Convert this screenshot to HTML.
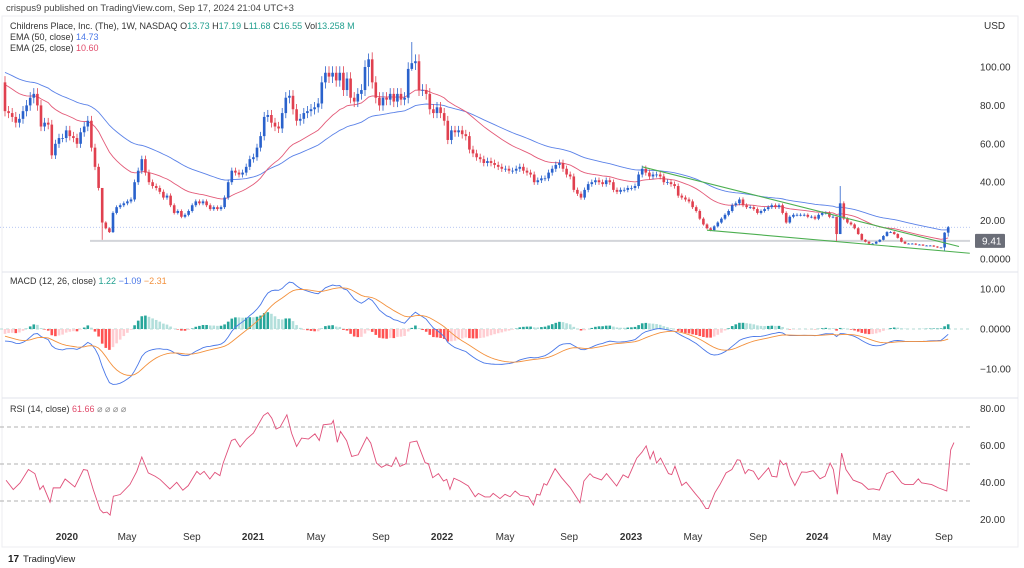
<!DOCTYPE html>
<html><head><meta charset="utf-8"><style>
html,body{margin:0;padding:0;background:#fff;}
svg{display:block;font-family:"Liberation Sans",sans-serif;}
</style></head><body>
<svg id="c" width="1024" height="568" viewBox="0 0 1024 568" xmlns="http://www.w3.org/2000/svg">
<rect x="0" y="0" width="1024" height="568" fill="#fff"/>
<text x="6" y="11" font-size="9.5" fill="#444">crispus9 published on TradingView.com, Sep 17, 2024 21:04 UTC+3</text>
<rect x="2" y="16" width="1016" height="531" fill="none" stroke="#eceef2"/>
<line x1="2" y1="272" x2="1018" y2="272" stroke="#e0e3eb"/>
<line x1="2" y1="398" x2="1018" y2="398" stroke="#e0e3eb"/>
<g id="main"></g>
<g id="macd"></g>
<g id="rsi"></g>
<g id="axes"></g>
<text x="10" y="29" font-size="9" fill="#333">Childrens Place, Inc. (The), 1W, NASDAQ <tspan fill="#333">O</tspan><tspan fill="#22a08f">13.73</tspan> <tspan fill="#333">H</tspan><tspan fill="#22a08f">17.19</tspan> <tspan fill="#333">L</tspan><tspan fill="#22a08f">11.68</tspan> <tspan fill="#333">C</tspan><tspan fill="#22a08f">16.55</tspan> <tspan fill="#333">Vol</tspan><tspan fill="#22a08f">13.258 M</tspan></text>
<text x="10" y="40" font-size="9" fill="#333">EMA (50, close) <tspan fill="#4a78e8">14.73</tspan></text>
<text x="10" y="51" font-size="9" fill="#333">EMA (25, close) <tspan fill="#e04a6a">10.60</tspan></text>
<text x="10" y="284" font-size="9" fill="#333">MACD (12, 26, close) <tspan fill="#22a08f">1.22</tspan> <tspan fill="#4a78e8">−1.09</tspan> <tspan fill="#f3913d">−2.31</tspan></text>
<text x="10" y="412" font-size="9" fill="#333">RSI (14, close) <tspan fill="#e04a6a">61.66</tspan> <tspan fill="#888">⌀ ⌀ ⌀ ⌀</tspan></text>
<text x="984" y="29" font-size="10" fill="#333">USD</text>
<text x="8" y="562" font-size="10" font-weight="bold" fill="#222">17</text>
<text x="23" y="562" font-size="9.5" fill="#222">TradingView</text>
</svg>
<script>
const closes=[77,76,74,71,73,77,80,84,86,80,69,71,70,54,60,63,63,67,64,63,60,66,69,72,58,48,37,19,16,14,24,27,28,29,30,31,40,46,52,45,40,38,37,35,32,33,28,24,25,22,23,25,28,30,29,30,28,26,27,26,27,32,40,46,45,44,45,48,52,53,58,64,74,75,71,69,68,76,84,85,78,72,73,76,77,78,79,81,92,97,95,97,93,97,88,94,84,82,86,88,100,104,92,84,80,84,83,86,82,86,83,84,99,102,103,88,88,86,78,76,79,76,72,62,67,66,67,65,64,57,55,53,52,50,51,50,49,48,47,47,46,46,47,48,46,45,44,40,41,42,42,45,47,49,50,47,44,43,36,34,32,36,39,40,41,40,39,41,40,36,35,36,36,37,37,38,44,47,45,43,44,44,43,40,40,39,38,33,32,31,30,27,25,21,18,16,15,17,19,21,23,25,28,29,31,28,27,27,26,24,25,26,27,28,27,28,24,19,22,23,23,23,23,22,22,21,23,24,24,22,22,13,29,21,19,18,16,13,10,9,8,8,9,10,12,14,14,13,11,9,8,8,8,7.5,7.5,7,7,7,6.5,6,6,13.73,16.55];
const firstOpen=92;
const spikeIdx=[27,101,113,231,232,261,262];
const spikeHigh=[20,107,113,15,38,14,17.19];
const spikeLow=[10,90,98,9,13,4,11.68];
const rsiIdx=[0.3,2.3,4.2,6.5,8.3,9.7,10.6,12.5,13.4,15.3,16.7,19.4,21.8,22.9,24.5,26.4,27.3,28.3,29.2,30.1,32,34.7,36.6,38,39.8,41.7,43.1,45.8,47.7,49.4,50.9,53.3,54.2,55.3,56.9,58.3,59.7,60.6,62.9,63.9,65.3,67.1,69,71.8,73,74.1,75.3,76.4,78.3,79.6,81,82.4,84.3,86.1,87.3,88.4,90.7,91.2,92.3,93.2,94.9,96.3,98.1,100.5,101.6,103.2,104.6,106,107.4,108.6,109.7,111.4,112.5,114.4,116.7,117.6,118.8,120.4,121.8,122.7,123.6,124.7,126.4,128.7,130.6,131.5,133.3,134.7,135.6,137.5,138.9,140.3,141.7,143.1,145.4,146.8,147.7,148.6,149.7,150.5,152.8,154.6,157,159.7,160.8,162.5,163.4,165.7,167.1,169.9,171.7,173.1,175.5,176.9,178.1,179.2,180.1,181,182.1,184.3,185.2,186.1,188,189.2,191.7,193.1,194.7,195.4,197.2,198.6,200.3,201.9,203.4,204.2,205.6,206.5,207.9,209.3,212.1,213,214.4,215.3,216.2,217,218.1,219.4,221.3,222.7,224.5,226.4,227.8,229.2,230.1,231.2,232.4,233.6,235.6,238,239.8,241.2,242.9,244.9,246.6,249.1,250,252.3,253.7,254.6,257.4,259.3,261.6,262.7,263.6];
const rsiVals=[41.2,36.2,39.8,47,44.8,36.2,38.3,29.4,37.1,37.1,41.9,37.6,47,46.6,36.2,25.4,23.6,24,22.4,32.6,33.5,38.9,46,53.8,45.2,43.4,41.6,36.5,40.1,35.8,38.3,46,44.3,46,41.9,45.5,43.7,50.5,62.7,63.5,59.2,63.5,66.7,76.2,77.8,74.8,68.9,69.9,76.6,66.7,59.5,64,63.5,66.3,62.7,71.2,71.7,73.5,61.7,67.6,62.6,54.1,55,64.5,61.3,50.5,48.2,49.6,48.7,53.6,48.7,50.2,61.7,62.4,50.7,50.2,42.6,44.8,40.8,41.7,36.3,42.3,40.8,38.1,32.3,34.1,32.2,32.2,34.1,31.3,33.6,32.3,35.4,33.1,32.3,27.8,33.6,33.2,39.4,38.6,47.5,42.6,37.2,29.1,40.8,44.8,43,41.4,44.8,38.1,44.1,42.6,53.2,56.3,59.8,52.7,56.8,50.5,53.2,44.8,44.3,48.8,38.4,40.2,34.1,30.9,25.9,25.9,34.5,38.9,45.2,47,52.3,52,44.8,47,46.1,41.6,47.9,43.4,43,52,49.6,50.5,43.4,38.4,45.7,45.5,46.4,42,43.4,50.5,47,33.6,55.9,47,41.3,39.5,36.3,36.6,35.9,44.8,46.1,39.8,38.9,38.9,42,39.8,38.9,37.1,35.4,57.7,61.6];
const priceTicks=[0,20,40,60,80,100];
const priceTickLabels=["0.0000","20.00","40.00","60.00","80.00","100.00"];
const macdTicks=[10,0,-10];
const macdTickLabels=["10.00","0.0000","−10.00"];
const rsiTicks=[80,60,40,20];
const rsiTickLabels=["80.00","60.00","40.00","20.00"];
const timeTickIdx=[17.2,33.9,51.9,68.9,86.4,104.4,121.4,138.9,156.7,173.9,191.1,209.2,225.6,243.6,260.8];
const timeTickLabels=["2020","May","Sep","2021","May","Sep","2022","May","Sep","2023","May","Sep","2024","May","Sep"];
const timeTickBold=[1,0,0,1,0,0,1,0,0,1,0,0,1,0,0];
const emaSeed50=98, emaSeed25=92, ema12Seed=80, ema26Seed=83, signalSeed=-1.5;
const trendUpper=[[177,48],[265,6.5]];
const trendLower=[[195,15],[268,3]];
const lastPriceLine=9.41, currentPrice=16.55;

const NS="http://www.w3.org/2000/svg";
const xOf=i=>5+3.6*i;
const yP=p=>259-p*1.92;
const yM=v=>329-v*4;
const yR=v=>464-(v-50)*1.85;
function mk(tag,attrs,parent){const e=document.createElementNS(NS,tag);for(const k in attrs)e.setAttribute(k,attrs[k]);parent.appendChild(e);return e;}
const main=document.getElementById('main'),macdG=document.getElementById('macd'),rsiG=document.getElementById('rsi'),axes=document.getElementById('axes');

let l=mk('line',{x1:90,x2:970,y1:yP(lastPriceLine),y2:yP(lastPriceLine),stroke:'#d3d5da','stroke-width':2},main);


l=mk('line',{x1:0,x2:970,y1:yP(currentPrice),y2:yP(currentPrice),stroke:'#9fb4ee','stroke-width':0.8,'stroke-dasharray':'1 2'},main);



function ema(seed,n){const k=2/(n+1);let e=seed;return closes.map(c=>(e=c*k+e*(1-k)));}
const e50=ema(emaSeed50,50),e25=ema(emaSeed25,25);
[[e50,'#5b82e8','ema50-line'],[e25,'#e35a78','ema25-line']].forEach(([arr,col,nm])=>{
 const p=mk('polyline',{points:arr.map((v,i)=>xOf(i)+','+yP(v)).join(' '),fill:'none',stroke:col,'stroke-width':0.9},main);
 
 
});

closes.forEach((c,i)=>{
 const o=i===0?firstOpen:closes[i-1];
 let hi=Math.max(o,c)*1.035,lo=Math.min(o,c)*0.965;
 const si=spikeIdx.indexOf(i); if(si>=0){hi=spikeHigh[si];lo=spikeLow[si];}
 const up=c>=o,col=up?'#2a62cc':'#e0404f',x=xOf(i);
 const g=mk('g',{},main);
 
 
 mk('line',{x1:x,x2:x,y1:yP(hi),y2:yP(lo),stroke:col,'stroke-width':0.8},g);
 const t=yP(Math.max(o,c)),b=yP(Math.min(o,c));
 mk('rect',{x:x-1.3,y:t,width:2.6,height:Math.max(0.8,b-t),fill:col},g);
});

[[trendUpper,'upper-trendline'],[trendLower,'lower-trendline']].forEach(([pts,nm])=>{
 const t=mk('line',{x1:xOf(pts[0][0]),y1:yP(pts[0][1]),x2:xOf(pts[1][0]),y2:yP(pts[1][1]),stroke:'#4caf50','stroke-width':1.1},main);
 
 
});

const e12=ema(ema12Seed,12),e26=ema(ema26Seed,26);
const macdLine=e12.map((v,i)=>v-e26[i]);
let s=signalSeed;const sig=macdLine.map(v=>(s=v*0.2+s*0.8));
const hist=macdLine.map((v,i)=>v-sig[i]);
l=mk('line',{x1:0,x2:970,y1:yM(0),y2:yM(0),stroke:'#9ccfc8','stroke-width':0.8,'stroke-dasharray':'3 3'},macdG);


hist.forEach((h,i)=>{
 const prev=i?hist[i-1]:h;
 const col=h>=0?(h>=prev?'#26a69a':'#b2dfdb'):(h<prev?'#ff5252':'#ffcdd2');
 const r=mk('rect',{x:xOf(i)-1.3,y:Math.min(yM(0),yM(h)),width:2.6,height:Math.abs(yM(h)-yM(0)),fill:col},macdG);
 
 
});
[[macdLine,'#4a78e8','macd-line'],[sig,'#f3913d','signal-line']].forEach(([arr,col,nm])=>{
 const p=mk('polyline',{points:arr.map((v,i)=>xOf(i)+','+yM(v)).join(' '),fill:'none',stroke:col,'stroke-width':0.9},macdG);
 
 
});

[70,50,30].forEach(v=>{
 const d=mk('line',{x1:0,x2:970,y1:yR(v),y2:yR(v),stroke:'#999','stroke-width':0.7,'stroke-dasharray':'4 3'},rsiG);
 
 
});
const rp=mk('polyline',{points:rsiVals.map((v,i)=>xOf(rsiIdx[i])+','+yR(v)).join(' '),fill:'none',stroke:'#e0507a','stroke-width':0.9},rsiG);



priceTicks.forEach((v,i)=>{
 const t=mk('text',{x:980,y:yP(v)+3.5,'font-size':10,fill:'#333'},axes);t.textContent=priceTickLabels[i];
 
 
});
const lb=mk('rect',{x:975,y:yP(lastPriceLine)-7,width:30,height:14,fill:'#6b6e78',rx:1},axes);


const lt=mk('text',{x:982,y:yP(lastPriceLine)+3.5,'font-size':10,fill:'#fff'},axes);lt.textContent=lastPriceLine.toFixed(2);


macdTicks.forEach((v,i)=>{
 const t=mk('text',{x:980,y:yM(v)+3.5,'font-size':10,fill:'#333'},axes);t.textContent=macdTickLabels[i];
 
 
});
rsiTicks.forEach((v,i)=>{
 const t=mk('text',{x:980,y:yR(v)+3.5,'font-size':10,fill:'#333'},axes);t.textContent=rsiTickLabels[i];
 
 
});
timeTickIdx.forEach((v,i)=>{
 const t=mk('text',{x:xOf(v),y:540,'font-size':10,fill:'#333','text-anchor':'middle','font-weight':timeTickBold[i]?'bold':'normal'},axes);t.textContent=timeTickLabels[i];
 
 
});
</script>
</body></html>
